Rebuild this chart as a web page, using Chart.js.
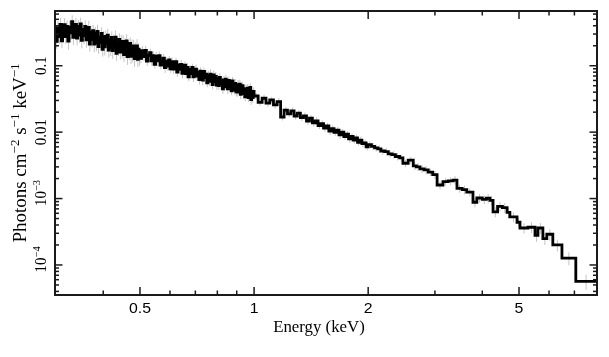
<!DOCTYPE html>
<html><head><meta charset="utf-8">
<script src="https://cdn.jsdelivr.net/npm/chart.js@4"></script>
<style>html,body{margin:0;padding:0;background:#fff;}canvas{display:block;}</style>
</head><body>
<canvas id="c" width="609" height="357"></canvas>
<script>
// ---- data ----
const binEdges = [
  0.3000,0.3025,0.3050,0.3075,0.3100,0.3125,0.3150,0.3175,0.3200,0.3225,
  0.3250,0.3275,0.3300,0.3325,0.3350,0.3375,0.3400,0.3425,0.3450,0.3475,
  0.3500,0.3525,0.3550,0.3575,0.3600,0.3625,0.3650,0.3675,0.3700,0.3725,
  0.3750,0.3775,0.3800,0.3825,0.3850,0.3875,0.3900,0.3925,0.3950,0.3975,
  0.4000,0.4025,0.4050,0.4075,0.4100,0.4125,0.4150,0.4175,0.4200,0.4225,
  0.4250,0.4275,0.4300,0.4325,0.4350,0.4375,0.4400,0.4425,0.4450,0.4475,
  0.4500,0.4525,0.4550,0.4575,0.4600,0.4625,0.4650,0.4675,0.4700,0.4725,
  0.4750,0.4775,0.4800,0.4825,0.4850,0.4875,0.4900,0.4925,0.4950,0.4975,
  0.500,0.505,0.510,0.515,0.520,0.525,0.530,0.535,0.540,0.545,
  0.550,0.555,0.560,0.565,0.570,0.575,0.580,0.585,0.590,0.595,
  0.600,0.605,0.610,0.615,0.620,0.625,0.630,0.635,0.640,0.645,
  0.650,0.655,0.660,0.665,0.670,0.675,0.680,0.685,0.690,0.695,
  0.700,0.705,0.710,0.715,0.720,0.725,0.730,0.735,0.740,0.745,
  0.750,0.755,0.760,0.765,0.770,0.775,0.780,0.785,0.790,0.795,
  0.800,0.805,0.810,0.815,0.820,0.825,0.830,0.835,0.840,0.845,
  0.850,0.855,0.860,0.865,0.870,0.875,0.880,0.885,0.890,0.895,
  0.900,0.905,0.910,0.915,0.920,0.925,0.930,0.935,0.940,0.945,
  0.950,0.955,0.960,0.965,0.970,0.975,0.980,0.985,0.990,0.995,
  1.000,1.025,1.050,1.075,1.100,1.125,1.150,1.175,1.200,1.225,
  1.250,1.275,1.300,1.325,1.350,1.375,1.400,1.425,1.450,1.475,
  1.500,1.525,1.550,1.575,1.600,1.625,1.650,1.675,1.700,1.725,
  1.750,1.775,1.800,1.825,1.850,1.875,1.900,1.925,1.950,1.975,
  2.00,2.04,2.08,2.12,2.16,2.21,2.26,2.31,2.36,2.42,
  2.47,2.55,2.63,2.68,2.74,2.81,2.88,2.96,
  3.04,3.15,3.25,3.35,3.43,3.54,3.64,3.78,3.87,4.00,
  4.10,4.19,4.27,4.39,4.52,4.65,4.73,4.94,5.03,5.28,
  5.51,5.61,5.78,5.92,6.14,6.49,7.06,
  8.00
];
const flux = [
  0.232,0.375,0.275,0.42,0.236,0.35,0.416,0.275,0.39,0.235,
  0.38,0.314,0.46,0.267,0.352,0.418,0.26,0.39,0.288,0.428,
  0.242,0.352,0.285,0.392,0.246,0.32,0.378,0.212,0.322,0.248,
  0.338,0.212,0.312,0.22,0.328,0.194,0.27,0.223,0.306,0.176,
  0.274,0.193,0.277,0.214,0.289,0.172,0.244,0.189,0.266,0.169,
  0.24,0.19,0.27,0.154,0.217,0.18,0.249,0.161,0.229,0.165,
  0.232,0.147,0.212,0.173,0.237,0.137,0.196,0.158,0.216,0.138,
  0.197,0.144,0.199,0.128,0.181,0.147,0.199,0.125,0.177,0.134,
  0.129,0.169,0.137,0.170,0.117,0.143,0.158,0.118,0.142,0.105,
  0.139,0.118,0.142,0.102,0.117,0.130,0.094,0.117,0.099,0.122,
  0.090,0.115,0.089,0.103,0.115,0.080,0.103,0.088,0.105,0.077,
  0.091,0.102,0.076,0.094,0.068,0.088,0.076,0.094,0.068,0.085,
  0.089,0.070,0.080,0.062,0.083,0.072,0.061,0.082,0.066,0.075,
  0.055,0.072,0.058,0.075,0.066,0.052,0.073,0.057,0.069,0.051,
  0.064,0.050,0.067,0.053,0.059,0.045,0.061,0.048,0.063,0.054,
  0.045,0.060,0.049,0.055,0.042,0.059,0.051,0.043,0.054,0.041,
  0.040,0.052,0.042,0.053,0.037,0.045,0.050,0.038,0.045,0.034,
  0.045,0.038,0.046,0.033,0.039,0.047,0.031,0.039,0.033,0.041,
  0.035,0.028,0.0324,0.0274,0.0307,0.0258,0.0289,0.0168,0.0215,0.0188,
  0.0209,0.0175,0.0194,0.0166,0.0175,0.0147,0.0163,0.0138,0.0148,0.0125,
  0.0134,0.0115,0.0124,0.0104,0.0113,0.0099,0.0107,0.0091,0.0100,0.0086,
  0.0093,0.0079,0.0086,0.0076,0.0082,0.0070,0.0076,0.0067,0.0069,0.0060,
  0.0065,0.0061,0.0058,0.0056,0.0052,0.0051,0.0047,0.0046,0.0043,0.0041,
  0.0034,0.0038,0.0031,0.0030,0.0028,0.0027,0.0025,0.0023,
  0.00160,0.00180,0.00184,0.00190,0.00142,0.00136,0.00125,0.00088,0.00102,0.00097,
  0.00101,0.00094,0.00063,0.00076,0.00073,0.00062,0.00053,0.00044,0.00036,0.00037,
  0.00028,0.00036,0.00025,0.00029,0.00020,0.000127,0.0000567
];
const fluxRelErr = [
  0.22,0.25,0.23,0.26,0.22,0.24,0.25,0.23,0.22,0.26,
  0.24,0.22,0.25,0.23,0.24,0.26,0.22,0.25,0.23,0.24,
  0.25,0.22,0.26,0.23,0.24,0.22,0.25,0.23,0.26,0.24,
  0.22,0.25,0.23,0.24,0.26,0.22,0.25,0.23,0.24,0.22,
  0.23,0.26,0.22,0.25,0.24,0.23,0.22,0.26,0.24,0.25,
  0.22,0.24,0.26,0.23,0.25,0.22,0.24,0.23,0.26,0.22,
  0.25,0.23,0.22,0.24,0.26,0.25,0.23,0.22,0.24,0.23,
  0.26,0.22,0.24,0.25,0.23,0.22,0.26,0.24,0.23,0.25,
  0.15,0.17,0.14,0.16,0.15,0.17,0.14,0.16,0.15,0.14,
  0.16,0.17,0.15,0.14,0.16,0.15,0.17,0.14,0.16,0.15,
  0.14,0.16,0.15,0.17,0.14,0.15,0.16,0.14,0.17,0.15,
  0.16,0.14,0.15,0.17,0.14,0.16,0.15,0.14,0.16,0.15,
  0.17,0.14,0.15,0.16,0.14,0.15,0.17,0.14,0.16,0.15,
  0.14,0.16,0.15,0.17,0.14,0.15,0.16,0.14,0.17,0.15,
  0.16,0.14,0.15,0.17,0.14,0.16,0.15,0.14,0.16,0.15,
  0.17,0.14,0.15,0.16,0.14,0.15,0.17,0.14,0.16,0.15,
  0.15,0.17,0.14,0.16,0.15,0.17,0.14,0.16,0.15,0.14,
  0.16,0.17,0.15,0.14,0.16,0.15,0.17,0.14,0.16,0.15,
  0.12,0.11,0.13,0.12,0.11,0.12,0.13,0.11,0.12,0.11,
  0.13,0.12,0.11,0.12,0.13,0.12,0.11,0.12,0.13,0.11,
  0.12,0.12,0.11,0.13,0.12,0.11,0.12,0.13,0.12,0.11,
  0.12,0.13,0.11,0.12,0.12,0.11,0.13,0.12,0.11,0.12,
  0.12,0.13,0.12,0.13,0.12,0.13,0.12,0.13,0.13,0.12,
  0.13,0.12,0.14,0.13,0.13,0.14,0.13,0.14,
  0.14,0.13,0.14,0.15,0.14,0.15,0.14,0.16,0.15,0.15,
  0.16,0.16,0.17,0.16,0.17,0.18,0.17,0.17,0.18,0.18,
  0.20,0.19,0.20,0.20,0.20,0.22,0.25
];
const xRange = [0.2984, 8.03];
const yRange = [3.53e-5, 0.667];
const xMajorTicks = [0.5, 1, 2, 5];
const xTickLabels = ['0.5', '1', '2', '5'];
const xMinorTicks = [0.4, 0.6, 0.7, 0.8, 0.9, 3, 4, 6, 7];
const yMajorTicks = [1e-4, 1e-3, 0.01, 0.1];
const yTickLabels = [['10', '\u22124'], ['10', '\u22123'], ['0.01', ''], ['0.1', '']];
const yMinorTicks = [4e-5,5e-5,6e-5,7e-5,8e-5,9e-5,
  2e-4,3e-4,4e-4,5e-4,6e-4,7e-4,8e-4,9e-4,
  2e-3,3e-3,4e-3,5e-3,6e-3,7e-3,8e-3,9e-3,
  0.02,0.03,0.04,0.05,0.06,0.07,0.08,0.09,
  0.2,0.3,0.4,0.5,0.6];
const xTitle = 'Energy (keV)';
const yTitleParts = [['Photons cm', 0], ['\u22122', 1], [' s', 0], ['\u22121', 1], [' keV', 0], ['\u22121', 1]];

// ---- build step points (left edges, plus closing right edge) ----
const nBins = Math.min(flux.length, binEdges.length - 1, fluxRelErr.length);
const stepPoints = [];
for (let i = 0; i < nBins; i++) stepPoints.push({x: binEdges[i], y: flux[i]});
stepPoints.push({x: binEdges[nBins], y: flux[nBins - 1]});

function drawParts(ctx, parts, o) {
  ctx.save();
  ctx.translate(o.x, o.y);
  if (o.rotate) { ctx.rotate(-Math.PI / 2); ctx.scale(1, o.stretch); }
  else { ctx.scale(o.stretch, 1); }
  ctx.textBaseline = 'alphabetic';
  ctx.textAlign = 'left';
  ctx.fillStyle = '#000';
  const widths = parts.map(p => { ctx.font = p[1] ? o.supFont : o.font; return ctx.measureText(p[0]).width; });
  const total = widths.reduce((a, b) => a + b, 0);
  let cx = o.anchorFirst ? -widths[0] / 2 : -total / 2;
  parts.forEach((p, i) => {
    ctx.font = p[1] ? o.supFont : o.font;
    ctx.fillText(p[0], cx, p[1] ? -o.supRise : 0);
    cx += widths[i];
  });
  ctx.restore();
}

const errorBars = {
  id: 'errorBars',
  beforeDatasetsDraw(chart) {
    const ctx = chart.ctx, xs = chart.scales.x, ys = chart.scales.y, ca = chart.chartArea;
    ctx.save();
    ctx.beginPath();
    ctx.rect(ca.left, ca.top, ca.right - ca.left, ca.bottom - ca.top);
    ctx.clip();
    ctx.strokeStyle = '#c4c4c4';
    ctx.lineWidth = 1;
    for (let i = 0; i < nBins; i++) {
      const v = flux[i];
      const px = (xs.getPixelForValue(binEdges[i]) + xs.getPixelForValue(binEdges[i + 1])) / 2;
      const e = fluxRelErr[i];
      ctx.beginPath();
      ctx.moveTo(px, ys.getPixelForValue(v * (1 + e)));
      ctx.lineTo(px, ys.getPixelForValue(v * (1 - e)));
      ctx.stroke();
    }
    ctx.restore();
  }
};

const frameAxes = {
  id: 'frameAxes',
  afterDraw(chart) {
    const ctx = chart.ctx, xs = chart.scales.x, ys = chart.scales.y, ca = chart.chartArea;
    ctx.save();
    ctx.strokeStyle = '#1a1a1a';
    ctx.lineWidth = 1.5;
    const seg = (a, b, c, d) => { ctx.beginPath(); ctx.moveTo(a, b); ctx.lineTo(c, d); ctx.stroke(); };
    const xt = (v, len) => { const p = xs.getPixelForValue(v); seg(p, ca.bottom, p, ca.bottom - len); seg(p, ca.top, p, ca.top + len); };
    const yt = (v, len) => { const p = ys.getPixelForValue(v); seg(ca.left, p, ca.left + len, p); seg(ca.right, p, ca.right - len, p); };
    xMajorTicks.forEach(v => xt(v, 8));
    xMinorTicks.forEach(v => xt(v, 4.5));
    yMajorTicks.forEach(v => yt(v, 7.5));
    yMinorTicks.forEach(v => yt(v, 4));
    ctx.lineWidth = 2;
    ctx.strokeRect(ca.left, ca.top, ca.right - ca.left, ca.bottom - ca.top);
    ctx.restore();

    xMajorTicks.forEach((v, i) => drawParts(ctx, [[xTickLabels[i], 0]], {
      x: xs.getPixelForValue(v), y: 313, stretch: 1.13,
      font: '14px "Liberation Sans", Arial, sans-serif', supFont: '10px "Liberation Sans"', supRise: 5
    }));
    yMajorTicks.forEach((v, i) => {
      const lab = yTickLabels[i];
      const parts = lab[1] ? [[lab[0], 0], [lab[1], 1]] : [[lab[0], 0]];
      drawParts(ctx, parts, {
        x: 46, y: ys.getPixelForValue(v), rotate: true, stretch: 1.05, anchorFirst: true,
        font: '15px "Liberation Serif", "Times New Roman", serif', supFont: '10.5px "Liberation Serif", serif', supRise: 6
      });
    });
    drawParts(ctx, [[xTitle, 0]], {
      x: 319, y: 332, stretch: 1.05,
      font: '16px "Liberation Serif", "Times New Roman", serif', supFont: '10px "Liberation Serif"', supRise: 5
    });
    drawParts(ctx, yTitleParts, {
      x: 26, y: 153, rotate: true, stretch: 1.0,
      font: '19px "Liberation Serif", "Times New Roman", serif', supFont: '13px "Liberation Serif", serif', supRise: 7
    });
  }
};

new Chart(document.getElementById('c'), {
  type: 'line',
  data: {
    datasets: [{
      label: 'spectrum',
      data: stepPoints,
      stepped: 'before',
      borderColor: '#000',
      borderWidth: 2.8,
      borderJoinStyle: 'miter',
      borderCapStyle: 'butt',
      pointRadius: 0,
      fill: false,
      tension: 0
    }]
  },
  options: {
    responsive: false,
    animation: false,
    devicePixelRatio: 1,
    layout: { padding: { left: 55, right: 12, top: 11, bottom: 62 } },
    plugins: { legend: { display: false }, tooltip: { enabled: false } },
    scales: {
      x: { type: 'logarithmic', min: xRange[0], max: xRange[1], display: false },
      y: { type: 'logarithmic', min: yRange[0], max: yRange[1], display: false }
    }
  },
  plugins: [errorBars, frameAxes]
});
</script>
</body></html>
